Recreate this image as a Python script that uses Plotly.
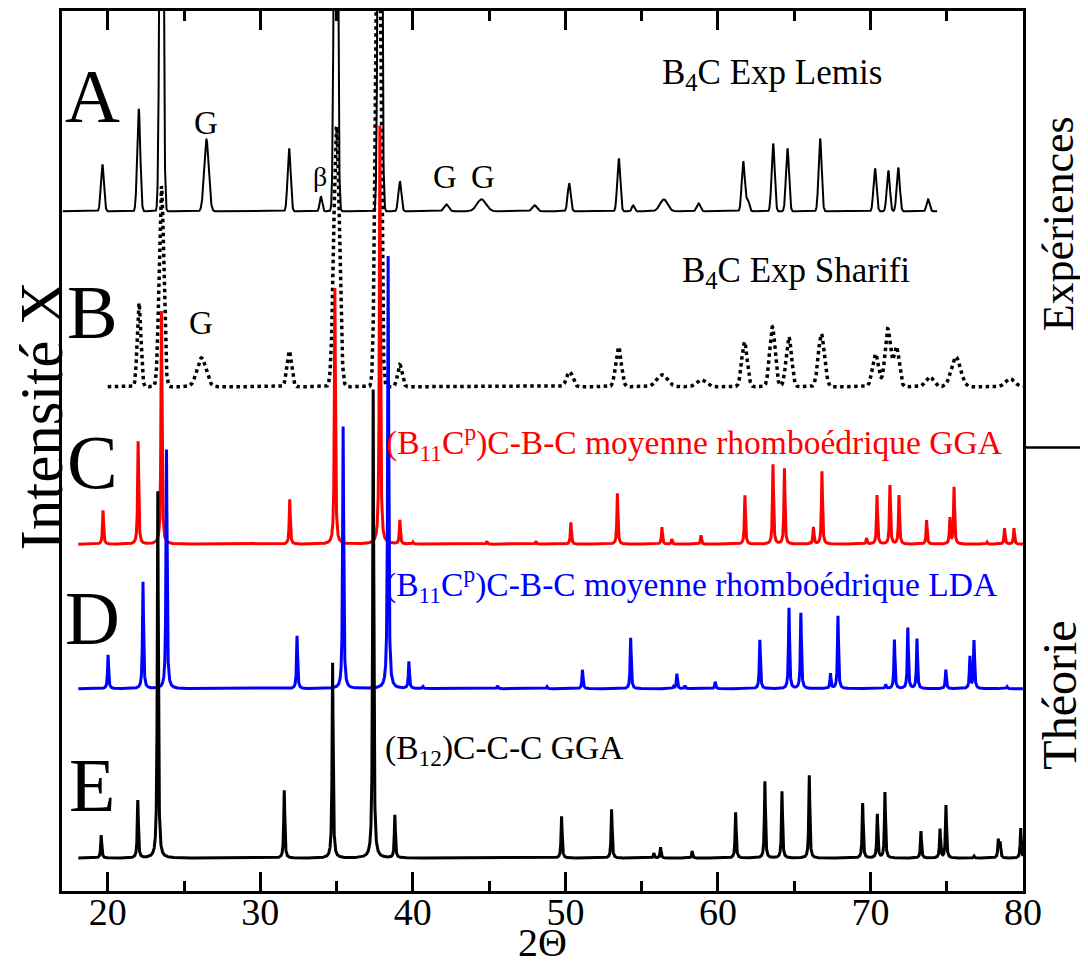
import numpy as np
import plotly.graph_objects as go

# ---------------- data ----------------
# A : B4C Exp Lemis (2theta position, intensity, width)
A_pos = [19.65, 22.03, 23.52, 26.47, 31.89, 33.97, 34.95, 37.84, 39.15, 42.2, 44.5, 47.98,
         50.25, 53.5, 54.44, 56.45, 58.73, 61.66, 61.95, 63.62, 64.56, 66.7, 70.3, 71.17,
         71.82, 73.78]
A_int = [47, 103, 700, 72, 63, 15, 700, 900, 30, 7, 12, 6,
         28, 53, 6, 12, 8, 50, 12, 68, 63, 73, 43, 41,
         44, 12]
A_wid = [0.1, 0.1, 0.1, 0.15, 0.1, 0.08, 0.1, 0.1, 0.1, 0.15, 0.3, 0.15,
         0.1, 0.1, 0.08, 0.25, 0.12, 0.1, 0.1, 0.1, 0.1, 0.1, 0.1, 0.1,
         0.1, 0.1]

# B : B4C Exp Sharifi
B_pos = [22.05, 23.52, 26.14, 31.89, 35.0, 37.72, 39.15, 50.28, 53.48, 56.35, 58.92,
         61.74, 63.57, 64.65, 66.78, 70.33, 71.13, 71.7, 73.88, 75.6, 79.15]
B_int = [84, 201, 29, 36, 261, 600, 22, 15, 40, 12, 7,
         45, 60, 50, 53, 33, 58, 40, 10, 30, 8]
B_wid = [0.12, 0.15, 0.3, 0.15, 0.18, 0.15, 0.15, 0.2, 0.18, 0.35, 0.3,
         0.18, 0.18, 0.18, 0.2, 0.2, 0.18, 0.18, 0.25, 0.3, 0.3]

# C : (B11Cp)C-B-C GGA
C_pos = [19.69, 21.99, 23.52, 31.93, 34.89, 37.84, 39.15, 40.0, 44.85, 48.07, 50.36, 53.41,
         56.33, 56.98, 58.89, 61.77, 63.61, 64.36, 66.26, 66.82, 69.74, 70.43, 71.28, 71.87,
         73.68, 75.21, 75.48, 77.64, 78.79, 79.41]
C_int = [34, 103, 234, 45, 257, 420, 24, 2, 3, 3, 22, 51,
         17, 5, 9, 49, 80, 76, 17, 73, 6, 49, 59, 49,
         24, 26, 57, 2, 16, 16]

# D : (B11Cp)C-B-C LDA
D_pos = [20.02, 22.31, 23.85, 32.41, 35.43, 38.38, 39.74, 40.66, 45.55, 48.79, 51.12, 54.28,
         57.08, 57.31, 57.84, 59.82, 62.75, 64.66, 65.44, 67.38, 67.87, 71.0, 71.57, 72.45,
         73.05, 74.94, 76.52, 76.79, 78.95]
D_int = [34, 107, 240, 53, 263, 434, 27, 2, 3, 2, 19, 51,
         2, 15, 3, 7, 49, 81, 76, 15, 73, 4, 49, 61,
         50, 19, 32, 48, 2]

# E : (B12)C-C-C GGA
E_pos = [19.57, 21.97, 23.28, 31.57, 34.74, 37.4, 38.82, 49.75, 53.03, 55.8, 56.24, 58.31,
         61.16, 63.08, 64.2, 65.99, 69.49, 70.45, 70.95, 73.31, 74.56, 74.95, 76.79, 78.38,
         78.5, 79.85]
E_int = [23, 58, 368, 68, 196, 470, 43, 42, 49, 5, 11, 7,
         46, 77, 67, 83, 55, 44, 66, 27, 29, 53, 2, 18,
         15, 30]

x_ticks = [20, 30, 40, 50, 60, 70, 80]
x_minor = [25, 35, 45, 55, 65, 75]

# ---------------- rendering helpers ----------------
FONT = "Liberation Serif"


def gauss_pattern(x, pos, inten, wid):
    y = np.zeros_like(x)
    for p, h, s in zip(pos, inten, wid):
        y += h * np.exp(-0.5 * ((x - p) / s) ** 2)
    return y


def lorentz_pattern(x, pos, inten, g=0.04):
    y = np.zeros_like(x)
    for p, h in zip(pos, inten):
        y += h / (1.0 + ((x - p) / g) ** 2)
    return y


# page has an 8px body margin: figure is drawn from (8, 8)
OFF = 8
FIG_W, FIG_H = 1088 - OFF, 965 - OFF
L, R, T, B = 62 - OFF, 65, 0, 74
PW = FIG_W - L - R          # 961
PH = FIG_H - T - B          # 883
H = 891                     # page row of the bottom axis


def px(p):
    """page column -> 2theta"""
    return 17 + (p - 62) / (PW / 63.0)


def pxpaper(p):
    """page column -> paper x"""
    return (p - OFF - L) / PW


# vertical offsets of the stacked patterns (axis units = pixels from bottom)
offA, offB, offC, offD, offE = H - 209, H - 385, H - 543, H - 688, H - 858

xA = np.arange(17.05, 74.37, 0.01)
xB = np.arange(20.0, 80.0, 0.01)
xT = np.arange(18.07, 80.0, 0.005)

fig = go.Figure()
fig.add_trace(go.Scatter(x=xA, y=offA + gauss_pattern(xA, A_pos, A_int, A_wid), mode="lines",
                         line=dict(color="black", width=2), hoverinfo="skip"))
fig.add_trace(go.Scatter(x=xB, y=offB + gauss_pattern(xB, B_pos, B_int, B_wid), mode="lines",
                         line=dict(color="black", width=3.5, dash="dot"), hoverinfo="skip"))
fig.add_trace(go.Scatter(x=xT, y=offC + lorentz_pattern(xT, C_pos, C_int), mode="lines",
                         line=dict(color="#ff0000", width=3), hoverinfo="skip"))
fig.add_trace(go.Scatter(x=xT, y=offD + lorentz_pattern(xT, D_pos, D_int), mode="lines",
                         line=dict(color="#0000ff", width=3), hoverinfo="skip"))
fig.add_trace(go.Scatter(x=xT, y=offE + lorentz_pattern(xT, E_pos, E_int), mode="lines",
                         line=dict(color="black", width=3), hoverinfo="skip"))


def ann(text, x, y, size, color="black", xref="x", yref="y", angle=0, xanchor="center"):
    fig.add_annotation(text=text, x=x, y=y, xref=xref, yref=yref, showarrow=False,
                       font=dict(family=FONT, size=size, color=color), textangle=angle,
                       xanchor=xanchor, yanchor="middle", borderpad=0)


# big letters
for letter, row in zip("ABCDE", [93, 310, 461, 617, 785]):
    ann(letter, px(92), H - row, 76)

# series labels
ann("B<sub>4</sub>C Exp Lemis", px(772), H - 72, 35)
ann("B<sub>4</sub>C Exp Sharifi", px(796), H - 270, 35)
ann("(B<sub>11</sub>C<sup>p</sup>)C-B-C moyenne rhomboédrique GGA", px(385), H - 441, 33.5,
    color="#ff0000", xanchor="left")
ann("(B<sub>11</sub>C<sup>p</sup>)C-B-C moyenne rhomboédrique LDA", px(384), H - 583, 33.5,
    color="#0000ff", xanchor="left")
ann("(B<sub>12</sub>)C-C-C GGA", px(384), H - 750, 33.5, xanchor="left")

# phase labels
ann("G", 26.47, H - 120, 33)
ann("β", px(320), H - 174, 28)
ann("G", px(445), H - 175, 33)
ann("G", px(483), H - 175, 33)
ann("G", 26.14, H - 321, 33)

# side labels
ann("Intensité X", pxpaper(42), H - 415, 61, xref="paper", angle=-90)
ann("Expériences", pxpaper(1058), H - 222, 44, xref="paper", angle=-90)
ann("Théorie", pxpaper(1060), H - 695, 48, xref="paper", angle=-90)
ann("2Θ", 0.5, -(943 - H) / PH, 40, xref="paper", yref="paper")

fig.add_shape(type="line", xref="paper", yref="y", x0=1, x1=1 + 70 / PW, y0=H - 446, y1=H - 446,
              line=dict(color="black", width=2.5))

fig.update_layout(
    width=FIG_W, height=FIG_H,
    margin=dict(l=L, r=R, t=T, b=B, pad=0),
    paper_bgcolor="white", plot_bgcolor="white",
    showlegend=False,
    font=dict(family=FONT, color="black"),
    xaxis=dict(range=[17, 80], tickvals=x_ticks, ticks="inside", ticklen=19, tickwidth=2.5,
               tickcolor="black", showline=True, linewidth=2.5, linecolor="black",
               mirror="ticks", showgrid=False, zeroline=False, ticklabelstandoff=-14,
               tickfont=dict(family=FONT, size=38, color="black"),
               minor=dict(tickvals=x_minor, ticks="inside", ticklen=10,
                          tickwidth=2.5, tickcolor="black", showgrid=False)),
    yaxis=dict(range=[0, PH], showline=True, linewidth=2.5, linecolor="black", mirror=True,
               ticks="", showticklabels=False, showgrid=False, zeroline=False),
)

fig.write_html("out.html")
